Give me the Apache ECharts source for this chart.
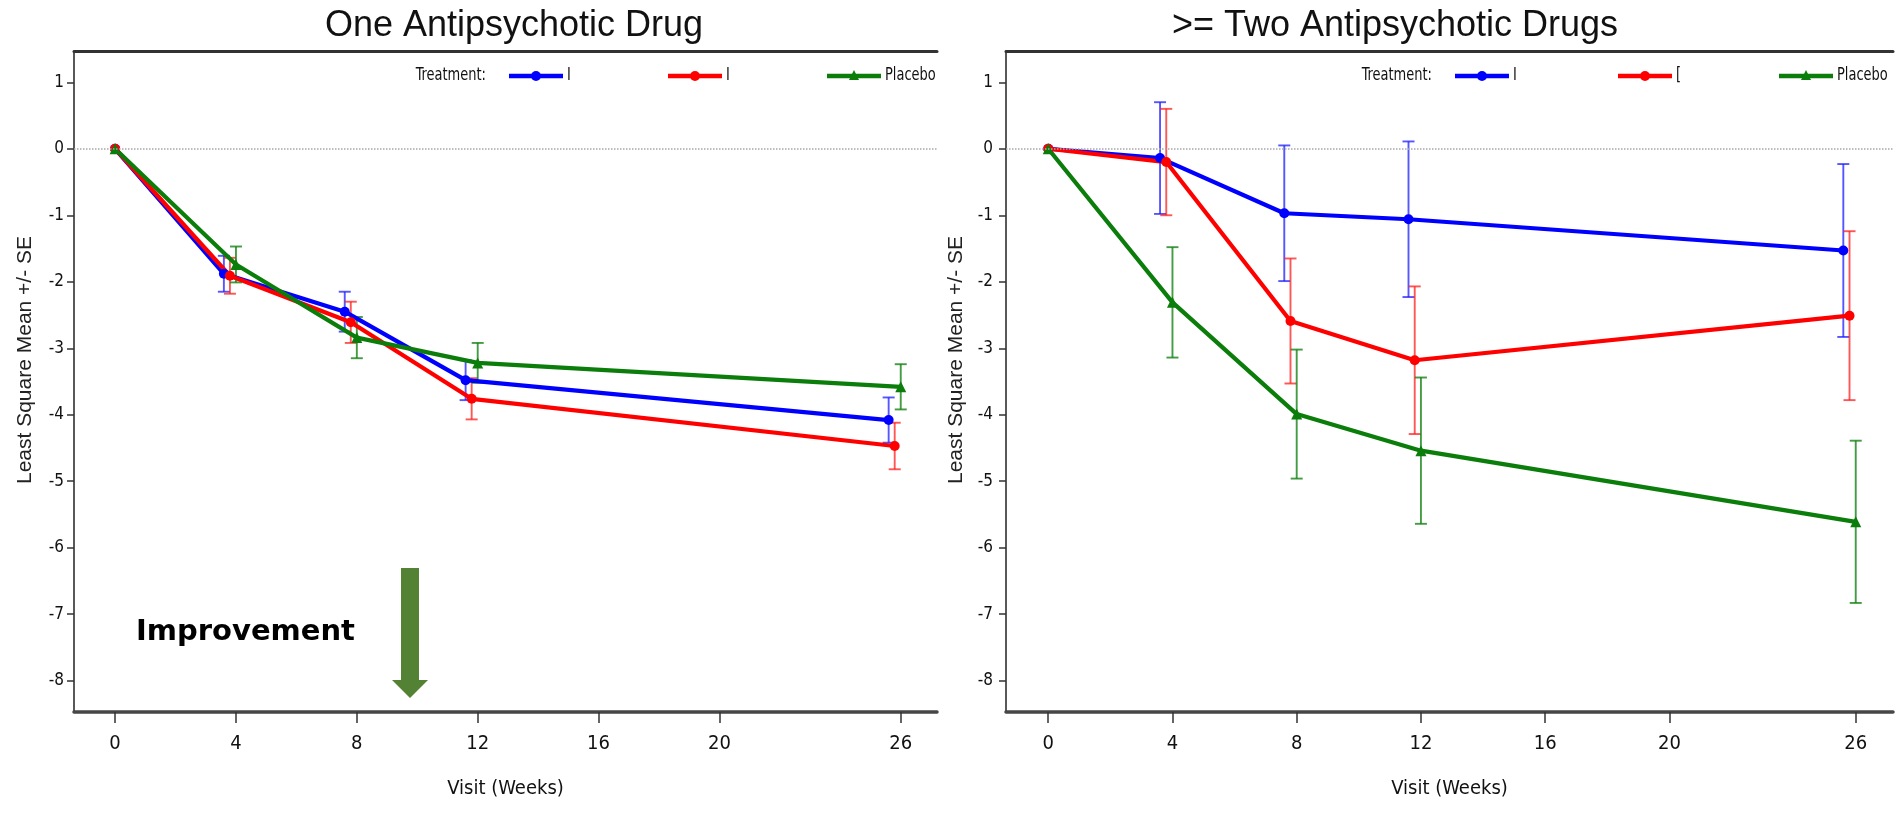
<!DOCTYPE html>
<html>
<head>
<meta charset="utf-8">
<script src="https://cdn.jsdelivr.net/npm/echarts@6/dist/echarts.min.js"></script>
<style>
  html, body { margin: 0; padding: 0; background: #ffffff; }
  #chart { width: 1898px; height: 817px; }
</style>
</head>
<body>
<div id="chart"></div>
<script>
// ---- Data -------------------------------------------------------------
const visitWeeks = [0, 4, 8, 12, 26];
const xTickValues = [0, 4, 8, 12, 16, 20, 26];
const yTickValues = [-8, -7, -6, -5, -4, -3, -2, -1, 0, 1];
const panelTitles = ['One Antipsychotic Drug', '>= Two Antipsychotic Drugs'];
const legendLabelsOne = ['I', 'I', 'Placebo'];
const legendLabelsTwo = ['I', '[', 'Placebo'];

// One antipsychotic drug: least square means and standard errors
const oneBlueMean  = [0, -1.88, -2.45, -3.48, -4.08];
const oneBlueSE    = [0, 0.27, 0.30, 0.30, 0.34];
const oneRedMean   = [0, -1.91, -2.61, -3.76, -4.47];
const oneRedSE     = [0, 0.27, 0.31, 0.31, 0.35];
const oneGreenMean = [0, -1.74, -2.84, -3.22, -3.58];
const oneGreenSE   = [0, 0.27, 0.31, 0.30, 0.34];

// Two or more antipsychotic drugs
const twoBlueMean  = [0, -0.14, -0.97, -1.06, -1.53];
const twoBlueSE    = [0, 0.84, 1.02, 1.17, 1.30];
const twoRedMean   = [0, -0.20, -2.59, -3.18, -2.51];
const twoRedSE     = [0, 0.80, 0.94, 1.11, 1.27];
const twoGreenMean = [0, -2.31, -3.99, -4.54, -5.61];
const twoGreenSE   = [0, 0.83, 0.97, 1.10, 1.22];

// ---- Styling ----------------------------------------------------------
const narrowFont = "'Liberation Sans Narrow', 'DejaVu Sans Condensed', 'Liberation Sans', sans-serif";
const plainFont = "'Liberation Sans', Arial, sans-serif";
const colors = ['#0000ff', '#ff0000', '#0b7d0b'];
const barColors = ['rgba(30,30,255,0.75)', 'rgba(255,30,30,0.75)', 'rgba(20,130,20,0.8)'];
const symbols = ['circle', 'circle', 'triangle'];
const dodge = [-0.4, -0.2, 0];   // horizontal shift (weeks) so the error bars don't overlap
const X_MIN = -1.36, X_MAX = 27.2, Y_MIN = -8.47, Y_MAX = 1.47;

const grids = [
  { left: 74, top: 51, width: 863, height: 661 },
  { left: 1006, top: 51, width: 887, height: 661 }
];

function pointsOf(means, k) {
  return visitWeeks.map((w, i) => [w === 0 ? w : w + dodge[k], means[i]]);
}
function barsOf(means, ses, k) {
  const out = [];
  visitWeeks.forEach((w, i) => {
    if (ses[i] > 0) out.push([w + dodge[k], means[i] - ses[i], means[i] + ses[i]]);
  });
  return out;
}

function errorBarSeries(panel, k, means, ses) {
  const stroke = barColors[k];
  return {
    type: 'custom',
    xAxisIndex: panel * 2, yAxisIndex: panel,
    z: 2,
    silent: true,
    encode: { x: 0, y: [1, 2] },
    data: barsOf(means, ses, k),
    renderItem: function (params, api) {
      const x = api.value(0);
      const lo = api.coord([x, api.value(1)]);
      const hi = api.coord([x, api.value(2)]);
      const cap = 6;
      const st = { stroke: stroke, lineWidth: 1.9 };
      return {
        type: 'group',
        children: [
          { type: 'line', shape: { x1: lo[0], y1: lo[1], x2: hi[0], y2: hi[1] }, style: st },
          { type: 'line', shape: { x1: hi[0] - cap, y1: hi[1], x2: hi[0] + cap, y2: hi[1] }, style: st },
          { type: 'line', shape: { x1: lo[0] - cap, y1: lo[1], x2: lo[0] + cap, y2: lo[1] }, style: st }
        ]
      };
    }
  };
}

function lineSeries(panel, k, means, withZeroLine) {
  const s = {
    type: 'line',
    xAxisIndex: panel * 2, yAxisIndex: panel,
    z: 3,
    data: pointsOf(means, k),
    symbol: symbols[k],
    symbolSize: k === 2 ? 11 : 10,
    showSymbol: true,
    itemStyle: { color: colors[k] },
    lineStyle: { color: colors[k], width: 4.2 },
    silent: true
  };
  if (withZeroLine) {
    s.markLine = {
      silent: true,
      symbol: ['none', 'none'],
      label: { show: false },
      lineStyle: { type: 'dotted', color: '#a8a8a8', width: 1.5 },
      data: [{ yAxis: 0 }]
    };
  }
  return s;
}

const xAxes = [];
const yAxes = [];
grids.forEach((g, p) => {
  xAxes.push({
    type: 'value', gridIndex: p, position: 'bottom',
    min: X_MIN, max: X_MAX,
    axisLine: { show: true, onZero: false, lineStyle: { color: '#464646', width: 3.5 } },
    axisTick: { show: true, customValues: xTickValues, length: 11, lineStyle: { color: '#333', width: 1.5 } },
    axisLabel: { customValues: xTickValues, margin: 22, fontSize: 20, fontFamily: narrowFont, color: '#111' },
    splitLine: { show: false },
    name: 'Visit (Weeks)', nameLocation: 'middle', nameGap: 67,
    nameTextStyle: { fontSize: 20, fontFamily: narrowFont, color: '#111' }
  });
  xAxes.push({
    type: 'value', gridIndex: p, position: 'top',
    min: X_MIN, max: X_MAX,
    axisLine: { show: true, onZero: false, lineStyle: { color: '#333333', width: 3 } },
    axisTick: { show: false }, axisLabel: { show: false }, splitLine: { show: false }
  });
  yAxes.push({
    type: 'value', gridIndex: p, position: 'left',
    min: Y_MIN, max: Y_MAX,
    axisLine: { show: true, onZero: false, lineStyle: { color: '#222', width: 1.5 } },
    axisTick: { show: true, customValues: yTickValues, length: 7, lineStyle: { color: '#333', width: 1.5 } },
    axisLabel: { customValues: yTickValues, margin: p === 0 ? 10 : 13, fontSize: 17, fontFamily: narrowFont, color: '#111' },
    splitLine: { show: false }
  });
});

const series = [
  errorBarSeries(0, 0, oneBlueMean, oneBlueSE),
  errorBarSeries(0, 1, oneRedMean, oneRedSE),
  errorBarSeries(0, 2, oneGreenMean, oneGreenSE),
  lineSeries(0, 0, oneBlueMean, true),
  lineSeries(0, 1, oneRedMean, false),
  lineSeries(0, 2, oneGreenMean, false),
  errorBarSeries(1, 0, twoBlueMean, twoBlueSE),
  errorBarSeries(1, 1, twoRedMean, twoRedSE),
  errorBarSeries(1, 2, twoGreenMean, twoGreenSE),
  lineSeries(1, 0, twoBlueMean, true),
  lineSeries(1, 1, twoRedMean, false),
  lineSeries(1, 2, twoGreenMean, false)
];

// ---- Legend rows, axis titles and the improvement marker ----------------
function legendText(x, y, text, align) {
  return {
    type: 'text', x: x, y: y, scaleX: 0.85,
    style: { text: text, font: '17px ' + narrowFont, fill: '#111', align: align, verticalAlign: 'middle' }
  };
}
function legendRow(startX, keyX, labels) {
  const y = 76;
  const els = [legendText(startX, y, 'Treatment:', 'right')];
  keyX.forEach((x0, k) => {
    const x1 = x0 + 54, cx = x0 + 27;
    els.push({ type: 'line', shape: { x1: x0, y1: y, x2: x1, y2: y }, style: { stroke: colors[k], lineWidth: 4.5 } });
    if (symbols[k] === 'circle') {
      els.push({ type: 'circle', shape: { cx: cx, cy: y, r: 5 }, style: { fill: colors[k] } });
    } else {
      els.push({ type: 'polygon', shape: { points: [[cx, y - 6], [cx + 5, y + 4], [cx - 5, y + 4]] }, style: { fill: colors[k] } });
    }
    els.push(legendText(x1 + 4, y, labels[k], 'left'));
  });
  return els;
}

const graphics = [].concat(
  legendRow(486, [509, 668, 827], legendLabelsOne),
  legendRow(1432, [1455, 1618, 1779], legendLabelsTwo),
  [
    {
      type: 'text', x: 25, y: 360, rotation: Math.PI / 2,
      style: { text: 'Least Square Mean +/- SE', font: '21px ' + plainFont, fill: '#222', align: 'center', verticalAlign: 'middle' }
    },
    {
      type: 'text', x: 956, y: 360, rotation: Math.PI / 2,
      style: { text: 'Least Square Mean +/- SE', font: '21px ' + plainFont, fill: '#222', align: 'center', verticalAlign: 'middle' }
    },
    {
      type: 'text', x: 136, y: 632,
      style: { text: 'Improvement', font: 'bold 29px "DejaVu Sans", sans-serif', fill: '#000', align: 'left', verticalAlign: 'middle' }
    },
    {
      type: 'polygon',
      shape: { points: [[401, 568], [419, 568], [419, 680], [428, 680], [410, 698], [392, 680], [401, 680]] },
      style: { fill: '#548235' }
    }
  ]
);

const chart = echarts.init(document.getElementById('chart'), null, { renderer: 'canvas' });
chart.setOption({
  animation: false,
  backgroundColor: '#ffffff',
  title: [
    { text: panelTitles[0], left: 514, top: 8, textAlign: 'center', padding: 0,
      textStyle: { fontSize: 36, fontWeight: 'normal', fontFamily: plainFont, color: '#111' } },
    { text: panelTitles[1], left: 1395, top: 8, textAlign: 'center', padding: 0,
      textStyle: { fontSize: 36, fontWeight: 'normal', fontFamily: plainFont, color: '#111' } }
  ],
  grid: grids,
  xAxis: xAxes,
  yAxis: yAxes,
  series: series,
  graphic: graphics
});
</script>
</body>
</html>
